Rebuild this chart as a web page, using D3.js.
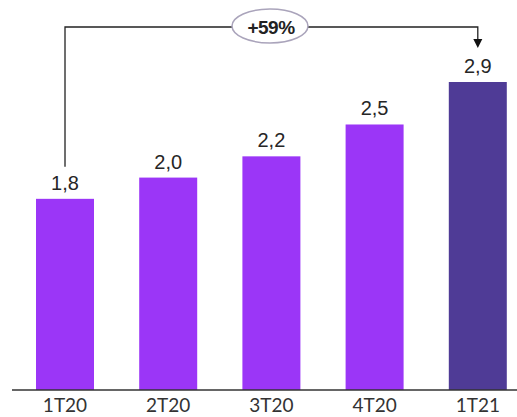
<!DOCTYPE html>
<html>
<head>
<meta charset="utf-8">
<script src="https://cdn.jsdelivr.net/npm/d3@7/dist/d3.min.js"></script>
<style>
  html, body { margin: 0; padding: 0; background: #fff; }
  svg { display: block; }
</style>
</head>
<body>
<svg id="chart" width="517" height="417"></svg>
<script>
// Quarterly values (categories and series)
const quarters = ["1T20", "2T20", "3T20", "4T20", "1T21"];
const values = [1.8, 2.0, 2.2, 2.5, 2.9];
const valueLabels = ["1,8", "2,0", "2,2", "2,5", "2,9"];
const growthLabel = "+59%";

const W = 517, H = 417;
const baseY = 390;

const svg = d3.select("#chart");

const x = d3.scaleBand()
  .domain(quarters)
  .range([13.3, 529.5])
  .paddingInner(0.438)
  .paddingOuter(0.22);

const y = d3.scaleLinear()
  .domain([0, 2.9])
  .range([baseY, 82]);

const barColor = (d, i) => i === quarters.length - 1 ? "#4f3b96" : "#9b36f7";

// Bars
svg.append("g").selectAll("rect")
  .data(values)
  .join("rect")
  .attr("x", (d, i) => x(quarters[i]))
  .attr("y", d => y(d))
  .attr("width", x.bandwidth())
  .attr("height", d => baseY - y(d))
  .attr("fill", barColor);

// Value labels above bars
svg.append("g").selectAll("text")
  .data(values)
  .join("text")
  .attr("x", (d, i) => x(quarters[i]) + x.bandwidth() / 2)
  .attr("y", d => y(d) - 9)
  .attr("text-anchor", "middle")
  .attr("font-family", "Liberation Sans, Arial, sans-serif")
  .attr("font-size", 20)
  .attr("fill", "#262626")
  .text((d, i) => valueLabels[i]);

// Baseline axis with category labels
const xAxis = d3.axisBottom(x).tickSize(0).tickPadding(9);
const axisG = svg.append("g")
  .attr("transform", `translate(0,${baseY})`)
  .call(xAxis);
axisG.select(".domain").remove();
axisG.append("line")
  .attr("x1", 12).attr("x2", W)
  .attr("y1", 0).attr("y2", 0)
  .attr("stroke", "#333").attr("stroke-width", 1.5);
axisG.selectAll(".tick text")
  .attr("font-family", "Lato, sans-serif")
  .attr("font-size", 19)
  .attr("fill", "#333")
  .attr("dy", "0.71em");

// Growth bracket from first to last quarter
const first = 0, last = quarters.length - 1;
const xa = x(quarters[first]) + x.bandwidth() / 2;
const xb = x(quarters[last]) + x.bandwidth() / 2;
const topY = 27;
const leftEnd = y(values[first]) - 32;
const arrowTip = y(values[last]) - 34;

svg.append("path")
  .attr("d", `M${xa},${leftEnd} V${topY} H${xb} V${arrowTip - 8}`)
  .attr("fill", "none")
  .attr("stroke", "#222")
  .attr("stroke-width", 1.3);

svg.append("path")
  .attr("d", `M${xb - 4.5},${arrowTip - 9} L${xb + 4.5},${arrowTip - 9} L${xb},${arrowTip} Z`)
  .attr("fill", "#111");

const cx = 270;
svg.append("ellipse")
  .attr("cx", cx).attr("cy", 26)
  .attr("rx", 38).attr("ry", 17)
  .attr("fill", "#fff")
  .attr("stroke", "#aaa4bb")
  .attr("stroke-width", 1.5);

svg.append("text")
  .attr("x", cx + 1).attr("y", 34)
  .attr("text-anchor", "middle")
  .attr("font-family", "Liberation Sans, Arial, sans-serif")
  .attr("font-weight", "bold")
  .attr("font-size", 19)
  .attr("letter-spacing", -0.5)
  .attr("fill", "#222")
  .text(growthLabel);
</script>
</body>
</html>
